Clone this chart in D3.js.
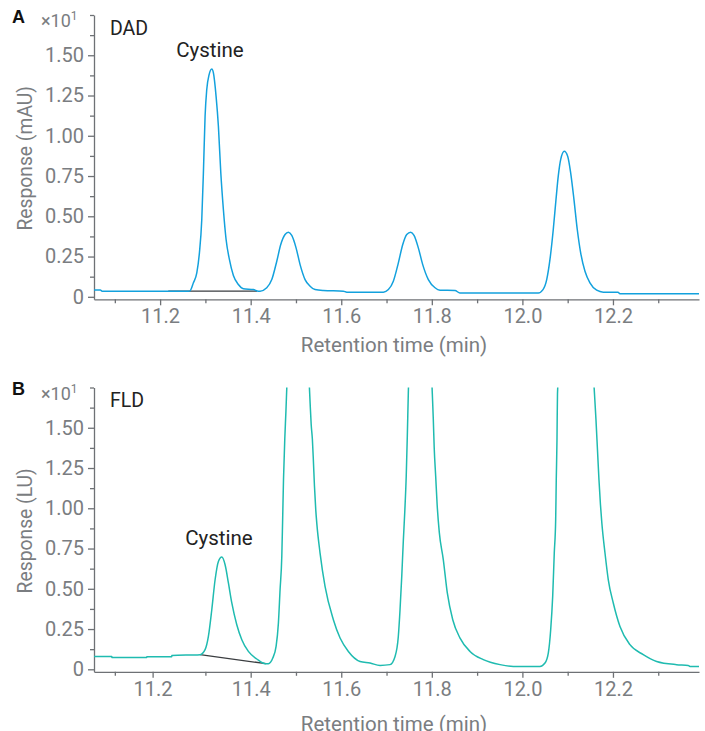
<!DOCTYPE html>
<html>
<head>
<meta charset="utf-8">
<script src="https://cdn.jsdelivr.net/npm/d3@7"></script>
<style>
  body { margin: 0; background: #fff; }
  svg { display: block; font-family: Roboto, "Noto Sans", sans-serif; }
</style>
</head>
<body>
<div id="chart"></div>
<script>
// chromatograms (time in min, response in units of x10^1)

// panel A - DAD trace
const dadTime = [11.054, 11.068, 11.072, 11.262, 11.266, 11.2735, 11.281, 11.2868, 11.292, 11.2958,
  11.2993, 11.303, 11.3082, 11.3141, 11.3177, 11.3236, 11.3287, 11.334, 11.3397, 11.3457,
  11.353, 11.3618, 11.3728, 11.3839, 11.406, 11.417, 11.4208, 11.4355, 11.4466, 11.4576,
  11.4664, 11.4759, 11.4832, 11.4907, 11.5002, 11.5091, 11.5201, 11.5311, 11.5422, 11.5605,
  11.6047, 11.6122, 11.693, 11.7041, 11.715, 11.7261, 11.7358, 11.7446, 11.7534, 11.7607,
  11.7702, 11.7799, 11.7923, 11.8071, 11.8181, 11.8512, 11.862, 12.0351, 12.0455, 12.0537,
  12.0609, 12.0682, 12.0742, 12.0792, 12.0845, 12.0925, 12.1, 12.1066, 12.1139, 12.1212,
  12.1287, 12.1382, 12.1492, 12.164, 12.1786, 12.2111, 12.2155, 12.39];
const dadResp = [0.042, 0.042, 0.035, 0.035, 0.037, 0.087, 0.149, 0.273, 0.48, 0.79,
  1.121, 1.287, 1.38, 1.415, 1.39, 1.245, 1.059, 0.77, 0.542, 0.356,
  0.232, 0.132, 0.076, 0.05, 0.045, 0.035, 0.035, 0.056, 0.107, 0.221,
  0.325, 0.387, 0.401, 0.381, 0.304, 0.2, 0.107, 0.066, 0.045, 0.039,
  0.035, 0.029, 0.029, 0.045, 0.097, 0.211, 0.325, 0.387, 0.401, 0.381,
  0.304, 0.2, 0.107, 0.056, 0.041, 0.039, 0.024, 0.024, 0.045, 0.107,
  0.232, 0.418, 0.604, 0.749, 0.852, 0.904, 0.873, 0.77, 0.604, 0.418,
  0.273, 0.159, 0.087, 0.041, 0.029, 0.029, 0.019, 0.019];
const dadBaseline = [[11.218, 0.035], [11.414, 0.035]];

// panel B - FLD trace (main peaks run off the top of the plot)
const fldTime = [11.054, 11.0934, 11.0935, 11.1706, 11.1707, 11.2258, 11.2259, 11.2883, 11.2993, 11.3066,
  11.3141, 11.3214, 11.3287, 11.3362, 11.3435, 11.3508, 11.3583, 11.3693, 11.3804, 11.3949,
  11.4135, 11.4318, 11.4391, 11.4488, 11.4561, 11.4612, 11.4649, 11.4687, 11.4705, 11.4725,
  11.4753, 11.4778, 11.4797, 11.505, 11.5296, 11.5313, 11.5336, 11.5362, 11.5384, 11.5408,
  11.5437, 11.5462, 11.5532, 11.5642, 11.5826, 11.5974, 11.6157, 11.6415, 11.6636, 11.6857,
  11.7077, 11.7188, 11.726, 11.7298, 11.7336, 11.7371, 11.7403, 11.7435, 11.7459, 11.7481,
  11.775, 11.8011, 11.8033, 11.8052, 11.8085, 11.8118, 11.8165, 11.8254, 11.8342,
  11.8462, 11.8623, 11.8843, 11.9137, 11.9506, 11.9799, 12.0389, 12.0499, 12.0572, 12.0625,
  12.0669, 12.0704, 12.0735, 12.0748, 12.0764, 12.0775, 12.118, 12.1592, 12.1625, 12.1658,
  12.1691, 12.1724, 12.1754, 12.1824, 12.1897, 12.2007, 12.2155, 12.2375, 12.2669, 12.2965,
  12.3406, 12.3662, 12.37, 12.39];
const fldResp = [0.080, 0.080, 0.074, 0.074, 0.078, 0.078, 0.086, 0.091, 0.122, 0.204,
  0.37, 0.556, 0.67, 0.697, 0.649, 0.536, 0.412, 0.277, 0.184, 0.111,
  0.064, 0.035, 0.035, 0.07, 0.142, 0.287, 0.494, 0.701, 0.92, 1.18,
  1.43, 1.6, 1.746, 3.2, 1.756, 1.65, 1.52, 1.43, 1.3, 1.14,
  0.99, 0.9, 0.722, 0.515, 0.308, 0.194, 0.111, 0.049, 0.039, 0.024,
  0.029, 0.08, 0.204, 0.37, 0.577, 0.8, 0.98, 1.2, 1.45, 1.715,
  3.2, 1.711, 1.55, 1.38, 1.2, 1.02, 0.85, 0.68, 0.474,
  0.308, 0.194, 0.111, 0.06, 0.029, 0.018, 0.018, 0.039, 0.101, 0.246,
  0.453, 0.722, 0.929, 1.177, 1.425, 1.711, 3.2, 1.711, 1.549, 1.363,
  1.177, 1.022, 0.91, 0.722, 0.556, 0.412, 0.266, 0.153, 0.091, 0.049,
  0.029, 0.024, 0.018, 0.018];
const fldBaseline = [[11.2883, 0.091], [11.434, 0.035]];

// axis ticks
const xTicks = [11.2, 11.4, 11.6, 11.8, 12.0, 12.2];
const xMinor = [11.1, 11.3, 11.5, 11.7, 11.9, 12.1, 12.3];
const yTicks = [0, 0.25, 0.5, 0.75, 1.0, 1.25, 1.5];
const yMinor = [0.125, 0.375, 0.625, 0.875, 1.125, 1.375, 1.625, 1.75];

const width = 705;
const height = 731;
const margin = {left: 94, right: 6};
const lineA = "#13a1dd";
const lineB = "#1fbbb0";
const axisColor = "#6e7175";
const textGray = "#7a7d81";

const svg = d3.select("#chart").append("svg")
  .attr("width", width)
  .attr("height", height);

const x = d3.scaleLinear()
  .domain([11.054, 12.39])
  .range([margin.left, width - margin.right]);

function drawPanel(p) {
  const y = d3.scaleLinear()
    .domain([-0.0155, 1.75])
    .range([p.bottom, p.bottom - 284.3]);

  const g = svg.append("g");

  // clip so the big peaks end at the top of the axis
  svg.append("clipPath").attr("id", p.id + "-clip")
    .append("rect")
      .attr("x", margin.left)
      .attr("y", y(1.75))
      .attr("width", width - margin.right - margin.left)
      .attr("height", p.bottom - y(1.75));

  // y axis
  g.append("g")
    .attr("transform", `translate(${margin.left},0)`)
    .call(d3.axisLeft(y).tickValues(yTicks).tickSize(6).tickSizeOuter(0).tickPadding(4)
      .tickFormat(d => d === 0 ? "0" : d3.format(".2f")(d)));
  g.append("g")
    .attr("transform", `translate(${margin.left},0)`)
    .call(d3.axisLeft(y).tickValues(yMinor).tickSize(4).tickFormat(""))
    .call(s => s.select(".domain").remove());

  // x axis
  const xAxis = g.append("g")
    .attr("transform", `translate(0,${p.bottom})`)
    .call(d3.axisBottom(x).tickValues(xTicks).tickSize(6).tickSizeOuter(0).tickPadding(4)
      .tickFormat(d3.format(".1f")));
  g.append("g")
    .attr("transform", `translate(0,${p.bottom})`)
    .call(d3.axisBottom(x).tickValues(xMinor).tickSize(4).tickFormat(""))
    .call(s => s.select(".domain").remove());

  // the first label in panel B sits a little to the left in the original
  if (p.shiftFirst) {
    xAxis.selectAll(".tick").filter(d => d === 11.2)
      .attr("transform", `translate(${x(11.2) - p.shiftFirst},0)`);
  }

  g.selectAll(".domain, .tick line")
    .attr("stroke", axisColor)
    .attr("stroke-width", 1.3);
  g.selectAll(".tick text")
    .attr("fill", textGray)
    .attr("font-size", 20)
    .attr("font-family", "Roboto");

  // axis titles
  g.append("text")
    .attr("x", 394)
    .attr("y", p.bottom + p.xTitleGap)
    .attr("text-anchor", "middle")
    .attr("fill", textGray)
    .attr("font-size", 20.5)
    .text("Retention time (min)");
  g.append("text")
    .attr("transform", `translate(32,${p.bottom - 141}) rotate(-90)`)
    .attr("text-anchor", "middle")
    .attr("fill", textGray)
    .attr("font-size", 19.3)
    .text(p.yTitle);

  // exponent label
  const ex = g.append("text")
    .attr("x", 41)
    .attr("y", p.bottom - 272)
    .attr("fill", textGray)
    .attr("font-size", 18);
  ex.append("tspan").text("×10");
  ex.append("tspan").attr("font-size", 12).attr("dy", -7).text("1");

  // panel letter and detector name
  g.append("text")
    .attr("x", 12)
    .attr("y", p.bottom - 276.5)
    .attr("font-weight", "bold")
    .attr("font-size", 18)
    .attr("font-family", "Liberation Sans, Arial, sans-serif")
    .attr("fill", "#111")
    .text(p.letter);
  g.append("text")
    .attr("x", 110)
    .attr("y", p.bottom - 264.5)
    .attr("font-size", 19.5)
    .attr("fill", "#222")
    .text(p.detector);

  // integration baseline
  g.append("path")
    .datum(p.base)
    .attr("fill", "none")
    .attr("stroke", "#3a3d40")
    .attr("stroke-width", 1.3)
    .attr("d", d3.line().x(d => x(d[0])).y(d => y(d[1])));

  // trace
  const pts = p.time.map((t, i) => [t, p.resp[i]]);
  g.append("path")
    .datum(pts)
    .attr("clip-path", `url(#${p.id}-clip)`)
    .attr("fill", "none")
    .attr("stroke", p.color)
    .attr("stroke-width", 1.5)
    .attr("d", d3.line().curve(d3.curveMonotoneX).x(d => x(d[0])).y(d => y(d[1])));

  // peak label
  g.append("text")
    .attr("x", x(p.labelAt[0]))
    .attr("y", y(p.labelAt[1]))
    .attr("text-anchor", "middle")
    .attr("font-size", 20.5)
    .attr("fill", "#222")
    .text("Cystine");
}

drawPanel({id: "dad", bottom: 299.3, time: dadTime, resp: dadResp, base: dadBaseline,
  color: lineA, yTitle: "Response (mAU)", letter: "A", detector: "DAD", labelAt: [11.31, 1.49],
  xTitleGap: 53, shiftFirst: 0});
drawPanel({id: "fld", bottom: 671.8, time: fldTime, resp: fldResp, base: fldBaseline,
  color: lineB, yTitle: "Response (LU)", letter: "B", detector: "FLD", labelAt: [11.33, 0.77],
  xTitleGap: 59, shiftFirst: 7});
</script>
</body>
</html>
